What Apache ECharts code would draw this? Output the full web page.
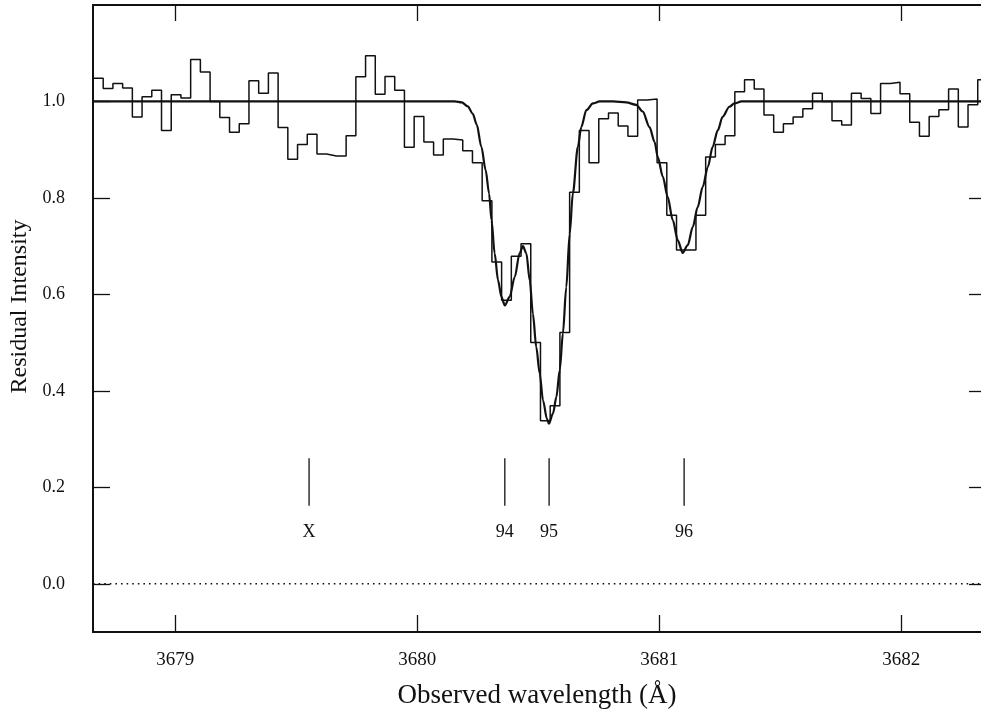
<!DOCTYPE html>
<html>
<head>
<meta charset="utf-8">
<title>Residual intensity</title>
<script src="https://cdn.jsdelivr.net/npm/echarts@6.0.0/dist/echarts.min.js"></script>
<style>
    html, body { margin: 0; padding: 0; background: #fff; }
    #chart { width: 981px; height: 715px; }
</style>
</head>
<body>
<div id="chart"></div>
<script>
    // spectrum pixels: left edge of first pixel + pixel width (Angstrom)
    const binStart = 3678.662
    const binWidth = 0.04016
    const flux = [
        1.048, 1.027, 1.037, 1.028, 0.968, 1.010, 1.023, 0.940, 1.014, 1.007,
        1.087, 1.061, 1.000, 0.967, 0.936, 0.954, 1.043, 1.017, 1.059, 0.946,
        0.880, 0.911, 0.932, 0.891, 0.887, 0.887, 0.929, 1.051, 1.095, 1.015,
        1.052, 1.023, 0.905, 0.969, 0.916, 0.889, 0.922, 0.920, 0.898, 0.873,
        0.794, 0.667, 0.588, 0.679, 0.705, 0.500, 0.338, 0.369, 0.521, 0.812,
        0.940, 0.873, 0.964, 0.976, 0.949, 0.928, 1.003, 1.005, 0.873, 0.764,
        0.692, 0.692, 0.764, 0.885, 0.911, 0.929, 1.020, 1.045, 1.026, 0.972,
        0.936, 0.954, 0.968, 0.985, 1.017, 1.000, 0.960, 0.951, 1.017, 1.006,
        0.975, 1.037, 1.040, 1.016, 0.957, 0.928, 0.969, 0.983, 1.026, 0.947,
        0.993, 1.045
    ]

    // fitted profile
    const fitWave = [
        3678.66, 3680.155, 3680.184, 3680.209, 3680.229, 3680.246, 3680.265, 3680.283, 3680.297, 3680.307,
        3680.320, 3680.334, 3680.348, 3680.362, 3680.382, 3680.403, 3680.423, 3680.437, 3680.451, 3680.465,
        3680.478, 3680.492, 3680.506, 3680.520, 3680.536, 3680.544, 3680.561, 3680.575, 3680.589, 3680.602,
        3680.616, 3680.630, 3680.643, 3680.664, 3680.678, 3680.699, 3680.726, 3680.754, 3680.809, 3680.864,
        3680.905, 3680.932, 3680.960, 3680.981, 3680.994, 3681.015, 3681.035, 3681.056, 3681.077, 3681.097,
        3681.118, 3681.139, 3681.159, 3681.180, 3681.201, 3681.221, 3681.242, 3681.262, 3681.290, 3681.311,
        3681.340, 3682.33
    ]
    const fitFlux = [
        1.000, 1.000, 0.998, 0.990, 0.975, 0.952, 0.906, 0.857, 0.809, 0.754,
        0.685, 0.629, 0.595, 0.577, 0.595, 0.636, 0.685, 0.700, 0.685, 0.629,
        0.560, 0.491, 0.436, 0.380, 0.342, 0.332, 0.353, 0.387, 0.443, 0.519,
        0.615, 0.725, 0.809, 0.906, 0.947, 0.982, 0.996, 1.000, 1.000, 0.998,
        0.993, 0.979, 0.947, 0.916, 0.885, 0.844, 0.802, 0.754, 0.712, 0.686,
        0.702, 0.740, 0.781, 0.823, 0.864, 0.906, 0.940, 0.968, 0.989, 0.996,
        1.000, 1.000
    ]

    // component markers
    const markerWave = [3679.553, 3680.362, 3680.545, 3681.103]
    const markerName = ['X', '94', '95', '96']
    const markerLow = 0.162
    const markerHigh = 0.26
    const markerLabelY = 0.107

    const xTicks = [3679, 3680, 3681, 3682]
    const yTicks = [0.0, 0.2, 0.4, 0.6, 0.8, 1.0]
    const xMin = 3678.66
    const xMax = 3682.33
    const yMin = -0.1
    const yMax = 1.2

    const ink = '#111'
    const serif = '"Liberation Serif", "DejaVu Serif", serif'

    const histData = flux.map((f, i) => [binStart + i * binWidth, f])
    histData.push([binStart + flux.length * binWidth, flux[flux.length - 1]])

    const fitData = fitWave.map((w, i) => [w, fitFlux[i]])

    const markerSeries = markerWave.map(w => ({
        type: 'line',
        data: [[w, markerLow], [w, markerHigh]],
        symbol: 'none',
        lineStyle: { color: ink, width: 1.3 },
        silent: true
    }))

    const chart = echarts.init(document.getElementById('chart'), null, { renderer: 'canvas' })

    const axisCommon = {
        type: 'value',
        axisLine: { show: true, onZero: false, lineStyle: { color: ink, width: 2 } },
        splitLine: { show: false }
    }
    const tickStyle = { color: ink, width: 1.3 }

    chart.setOption({
        animation: false,
        backgroundColor: '#fff',
        grid: {
            left: 93,
            right: 0,
            top: 5,
            bottom: 83,
            containLabel: false,
            outerBoundsMode: 'none'
        },
        xAxis: [
            Object.assign({}, axisCommon, {
                position: 'bottom',
                min: xMin,
                max: xMax,
                name: 'Observed wavelength (\u00C5)',
                nameLocation: 'middle',
                nameGap: 50,
                nameTextStyle: { fontFamily: serif, fontSize: 27, color: ink },
                axisTick: { show: true, inside: true, length: 17, customValues: xTicks, lineStyle: tickStyle },
                axisLabel: { show: true, customValues: xTicks, margin: 19,
                    fontFamily: serif, fontSize: 19, color: ink,
                    formatter: v => String(v) }
            }),
            Object.assign({}, axisCommon, {
                position: 'top',
                min: xMin,
                max: xMax,
                axisTick: { show: true, inside: true, length: 16, customValues: xTicks, lineStyle: tickStyle },
                axisLabel: { show: false }
            })
        ],
        yAxis: [
            Object.assign({}, axisCommon, {
                position: 'left',
                min: yMin,
                max: yMax,
                name: 'Residual Intensity',
                nameLocation: 'middle',
                nameGap: 60,
                nameTextStyle: { fontFamily: serif, fontSize: 24, color: ink, padding: [0, 0, 0, 24] },
                axisTick: { show: true, inside: true, length: 17, customValues: yTicks, lineStyle: tickStyle },
                axisLabel: { show: true, customValues: yTicks, margin: 28,
                    fontFamily: serif, fontSize: 18, color: ink,
                    formatter: v => v.toFixed(1) }
            }),
            Object.assign({}, axisCommon, {
                // right border sits off the picture, only its ticks show
                position: 'right',
                min: yMin,
                max: yMax,
                axisLine: { show: false, onZero: false },
                axisTick: { show: true, inside: true, length: 12, customValues: yTicks, lineStyle: tickStyle },
                axisLabel: { show: false }
            })
        ],
        series: [
            {
                // zero level
                type: 'line',
                data: [[xMin, 0], [xMax, 0]],
                symbol: 'none',
                lineStyle: { color: ink, width: 1.6, type: [1.6, 4] },
                silent: true
            },
            {
                name: 'data',
                type: 'line',
                step: 'end',
                data: histData,
                symbol: 'none',
                clip: true,
                lineStyle: { color: ink, width: 1.5 }
            },
            {
                name: 'fit',
                type: 'line',
                data: fitData,
                symbol: 'none',
                smooth: 0.3,
                smoothMonotone: 'x',
                clip: true,
                lineStyle: { color: ink, width: 2.2 }
            },
            ...markerSeries,
            {
                type: 'scatter',
                data: markerWave.map((w, i) => [w, markerLabelY, markerName[i]]),
                symbolSize: 1,
                silent: true,
                itemStyle: { color: 'rgba(0,0,0,0)', opacity: 1 },
                label: {
                    show: true,
                    position: 'inside',
                    formatter: p => p.value[2],
                    fontFamily: serif,
                    fontSize: 18,
                    color: ink,
                    opacity: 1,
                    textBorderWidth: 0
                }
            }
        ]
    })
</script>
</body>
</html>
